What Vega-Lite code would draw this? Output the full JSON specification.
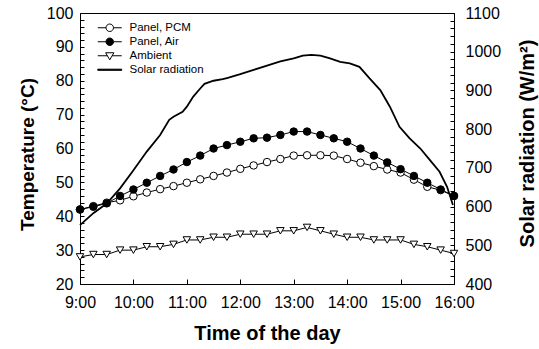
{
  "$schema": "https://vega.github.io/schema/vega-lite/v6.json",
  "width": 374,
  "height": 271,
  "autosize": {"type": "none"},
  "padding": {"left": 80, "top": 13, "right": 85, "bottom": 65},
  "config": {
    "font": "Liberation Sans",
    "view": {"stroke": "black", "strokeWidth": 1},
    "axis": {
      "domainColor": "black",
      "labelColor": "black",
      "titleColor": "black",
      "labelFont": "Liberation Sans",
      "titleFont": "Liberation Sans",
      "labelFontSize": 16,
      "titleFontWeight": "bold",
      "grid": false,
      "labelOverlap": false,
      "labelFlush": false,
      "labelBound": false
    },
    "legend": {
      "labelFont": "Liberation Sans",
      "labelFontSize": 11.5,
      "labelColor": "black"
    }
  },
  "datasets": {
    "temp": [
      {"time": 9, "series": "Panel, PCM", "temp": 42},
      {"time": 9.25, "series": "Panel, PCM", "temp": 43},
      {"time": 9.5, "series": "Panel, PCM", "temp": 44},
      {"time": 9.75, "series": "Panel, PCM", "temp": 44.7},
      {"time": 10, "series": "Panel, PCM", "temp": 45.9},
      {"time": 10.25, "series": "Panel, PCM", "temp": 47},
      {"time": 10.5, "series": "Panel, PCM", "temp": 48},
      {"time": 10.75, "series": "Panel, PCM", "temp": 48.9},
      {"time": 11, "series": "Panel, PCM", "temp": 49.9},
      {"time": 11.25, "series": "Panel, PCM", "temp": 50.9},
      {"time": 11.5, "series": "Panel, PCM", "temp": 51.9},
      {"time": 11.75, "series": "Panel, PCM", "temp": 52.9},
      {"time": 12, "series": "Panel, PCM", "temp": 54},
      {"time": 12.25, "series": "Panel, PCM", "temp": 55},
      {"time": 12.5, "series": "Panel, PCM", "temp": 56},
      {"time": 12.75, "series": "Panel, PCM", "temp": 56.9},
      {"time": 13, "series": "Panel, PCM", "temp": 57.9},
      {"time": 13.25, "series": "Panel, PCM", "temp": 58},
      {"time": 13.5, "series": "Panel, PCM", "temp": 58},
      {"time": 13.75, "series": "Panel, PCM", "temp": 57.9},
      {"time": 14, "series": "Panel, PCM", "temp": 56.9},
      {"time": 14.25, "series": "Panel, PCM", "temp": 55.8},
      {"time": 14.5, "series": "Panel, PCM", "temp": 54.8},
      {"time": 14.75, "series": "Panel, PCM", "temp": 53.8},
      {"time": 15, "series": "Panel, PCM", "temp": 52.9},
      {"time": 15.25, "series": "Panel, PCM", "temp": 50.8},
      {"time": 15.5, "series": "Panel, PCM", "temp": 48.7},
      {"time": 15.75, "series": "Panel, PCM", "temp": 47.7},
      {"time": 16, "series": "Panel, PCM", "temp": 46},
      {"time": 9, "series": "Panel, Air", "temp": 42},
      {"time": 9.25, "series": "Panel, Air", "temp": 42.8},
      {"time": 9.5, "series": "Panel, Air", "temp": 43.8},
      {"time": 9.75, "series": "Panel, Air", "temp": 46},
      {"time": 10, "series": "Panel, Air", "temp": 47.9},
      {"time": 10.25, "series": "Panel, Air", "temp": 49.9},
      {"time": 10.5, "series": "Panel, Air", "temp": 51.9},
      {"time": 10.75, "series": "Panel, Air", "temp": 53.8},
      {"time": 11, "series": "Panel, Air", "temp": 56},
      {"time": 11.25, "series": "Panel, Air", "temp": 57.9},
      {"time": 11.5, "series": "Panel, Air", "temp": 60},
      {"time": 11.75, "series": "Panel, Air", "temp": 61},
      {"time": 12, "series": "Panel, Air", "temp": 62},
      {"time": 12.25, "series": "Panel, Air", "temp": 63},
      {"time": 12.5, "series": "Panel, Air", "temp": 63.2},
      {"time": 12.75, "series": "Panel, Air", "temp": 64},
      {"time": 13, "series": "Panel, Air", "temp": 65},
      {"time": 13.25, "series": "Panel, Air", "temp": 65},
      {"time": 13.5, "series": "Panel, Air", "temp": 64},
      {"time": 13.75, "series": "Panel, Air", "temp": 63},
      {"time": 14, "series": "Panel, Air", "temp": 62},
      {"time": 14.25, "series": "Panel, Air", "temp": 60},
      {"time": 14.5, "series": "Panel, Air", "temp": 57.9},
      {"time": 14.75, "series": "Panel, Air", "temp": 55.9},
      {"time": 15, "series": "Panel, Air", "temp": 53.9},
      {"time": 15.25, "series": "Panel, Air", "temp": 51.9},
      {"time": 15.5, "series": "Panel, Air", "temp": 49.9},
      {"time": 15.75, "series": "Panel, Air", "temp": 47.9},
      {"time": 16, "series": "Panel, Air", "temp": 46},
      {"time": 9, "series": "Ambient", "temp": 28},
      {"time": 9.25, "series": "Ambient", "temp": 28.7},
      {"time": 9.5, "series": "Ambient", "temp": 28.7},
      {"time": 9.75, "series": "Ambient", "temp": 30},
      {"time": 10, "series": "Ambient", "temp": 30},
      {"time": 10.25, "series": "Ambient", "temp": 31},
      {"time": 10.5, "series": "Ambient", "temp": 31},
      {"time": 10.75, "series": "Ambient", "temp": 31.7},
      {"time": 11, "series": "Ambient", "temp": 33},
      {"time": 11.25, "series": "Ambient", "temp": 33},
      {"time": 11.5, "series": "Ambient", "temp": 33.8},
      {"time": 11.75, "series": "Ambient", "temp": 33.8},
      {"time": 12, "series": "Ambient", "temp": 34.7},
      {"time": 12.25, "series": "Ambient", "temp": 34.7},
      {"time": 12.5, "series": "Ambient", "temp": 34.7},
      {"time": 12.75, "series": "Ambient", "temp": 35.7},
      {"time": 13, "series": "Ambient", "temp": 35.7},
      {"time": 13.25, "series": "Ambient", "temp": 36.7},
      {"time": 13.5, "series": "Ambient", "temp": 35.7},
      {"time": 13.75, "series": "Ambient", "temp": 34.7},
      {"time": 14, "series": "Ambient", "temp": 33.8},
      {"time": 14.25, "series": "Ambient", "temp": 33.8},
      {"time": 14.5, "series": "Ambient", "temp": 33},
      {"time": 14.75, "series": "Ambient", "temp": 33},
      {"time": 15, "series": "Ambient", "temp": 33},
      {"time": 15.25, "series": "Ambient", "temp": 31.7},
      {"time": 15.5, "series": "Ambient", "temp": 31},
      {"time": 15.75, "series": "Ambient", "temp": 30},
      {"time": 16, "series": "Ambient", "temp": 29}
    ],
    "solar": [
      {"time": 9, "radiation": 552},
      {"time": 9.25, "radiation": 583},
      {"time": 9.5, "radiation": 608},
      {"time": 9.75, "radiation": 647},
      {"time": 10, "radiation": 694},
      {"time": 10.25, "radiation": 742},
      {"time": 10.5, "radiation": 785},
      {"time": 10.67, "radiation": 824},
      {"time": 10.75, "radiation": 832},
      {"time": 10.92, "radiation": 845},
      {"time": 11, "radiation": 858},
      {"time": 11.12, "radiation": 884},
      {"time": 11.25, "radiation": 905},
      {"time": 11.33, "radiation": 917},
      {"time": 11.5, "radiation": 925},
      {"time": 11.67, "radiation": 929},
      {"time": 11.75, "radiation": 932},
      {"time": 12, "radiation": 942},
      {"time": 12.25, "radiation": 953},
      {"time": 12.5, "radiation": 964},
      {"time": 12.75, "radiation": 975},
      {"time": 13, "radiation": 983},
      {"time": 13.17, "radiation": 990},
      {"time": 13.33, "radiation": 992},
      {"time": 13.5, "radiation": 990},
      {"time": 13.68, "radiation": 983},
      {"time": 13.87, "radiation": 974},
      {"time": 14.05, "radiation": 970},
      {"time": 14.23, "radiation": 961},
      {"time": 14.42, "radiation": 931},
      {"time": 14.62, "radiation": 901},
      {"time": 14.8, "radiation": 858},
      {"time": 14.98, "radiation": 806},
      {"time": 15.17, "radiation": 776},
      {"time": 15.37, "radiation": 750},
      {"time": 15.55, "radiation": 720},
      {"time": 15.73, "radiation": 690},
      {"time": 15.87, "radiation": 651},
      {"time": 15.98, "radiation": 604}
    ]
  },
  "layer": [
    {
      "data": {"name": "temp"},
      "encoding": {
        "x": {
          "field": "time", "type": "quantitative",
          "scale": {"domain": [9, 16], "nice": false, "zero": false},
          "axis": {
            "title": "Time of the day",
            "titleFontSize": 20,
            "titleX": 187, "titleY": 49,
            "titleAlign": "center", "titleBaseline": "middle",
            "values": [9, 9.5, 10, 10.5, 11, 11.5, 12, 12.5, 13, 13.5, 14, 14.5, 15, 15.5, 16],
            "labelExpr": "datum.value % 1 === 0 ? floor(datum.value) + ':00' : ''",
            "ticks": true,
            "tickColor": "black",
            "tickWidth": 1,
            "tickOpacity": 1,
            "tickSize": -5,
            "labelPadding": 15
          }
        },
        "y": {
          "field": "temp", "type": "quantitative",
          "scale": {"domain": [20, 100], "nice": false, "zero": false},
          "axis": {
            "title": "Temperature (°C)",
            "titleFontSize": 19,
            "titleAngle": -90,
            "titleX": -53, "titleY": 141,
            "titleAlign": "center", "titleBaseline": "middle",
            "values": [20, 22, 24, 26, 28, 30, 32, 34, 36, 38, 40, 42, 44, 46, 48, 50, 52, 54, 56, 58, 60, 62, 64, 66, 68, 70, 72, 74, 76, 78, 80, 82, 84, 86, 88, 90, 92, 94, 96, 98, 100],
            "labelExpr": "datum.value % 10 === 0 ? datum.label : ''",
            "ticks": true,
            "tickColor": "black",
            "tickWidth": 1,
            "tickOpacity": 1,
            "tickSize": -4,
            "labelPadding": 11
          }
        }
      },
      "layer": [
        {
          "mark": {"type": "line", "color": "black", "strokeWidth": 1},
          "encoding": {"detail": {"field": "series"}}
        },
        {
          "mark": {"type": "point", "filled": true, "stroke": "black", "strokeWidth": 1, "opacity": 1, "size": 56},
          "encoding": {
            "shape": {
              "field": "series", "type": "nominal",
              "scale": {"domain": ["Panel, PCM", "Panel, Air", "Ambient"], "range": ["circle", "circle", "triangle-down"]},
              "legend": null
            },
            "fill": {
              "field": "series", "type": "nominal",
              "scale": {"domain": ["Panel, PCM", "Panel, Air", "Ambient"], "range": ["white", "black", "white"]},
              "legend": null
            }
          }
        },
        {
          "mark": {"type": "point", "filled": true, "stroke": "black", "strokeWidth": 1, "opacity": 0, "size": 56},
          "encoding": {
            "shape": {
              "field": "series", "type": "nominal",
              "scale": {
                "domain": ["Panel, PCM", "Panel, Air", "Ambient", "Solar radiation"],
                "range": [
                  "M-3.2,0H-1M1,0H3.2M1,0A1,1,0,1,1,-1,0A1,1,0,1,1,1,0Z",
                  "M-3.2,0H-1M1,0H3.2M1,0A1,1,0,1,1,-1,0A1,1,0,1,1,1,0Z",
                  "M-3.2,0H-0.64M0.64,0H3.2M-1.1,-0.8L1.1,-0.8L0,1.1Z",
                  "M-3.2,-0.15H3.2V0.15H-3.2Z"
                ]
              },
              "legend": {
                "title": null,
                "orient": "none",
                "legendX": 16,
                "legendY": 9,
                "padding": 0,
                "symbolSize": 56,
                "symbolOpacity": 1,
                "symbolStrokeWidth": 1,
                "symbolOffset": 8,
                "labelOffset": 14,
                "rowPadding": 1
              }
            },
            "fill": {
              "field": "series", "type": "nominal",
              "scale": {"domain": ["Panel, PCM", "Panel, Air", "Ambient", "Solar radiation"], "range": ["white", "black", "white", "black"]},
              "legend": {
                "title": null,
                "orient": "none",
                "legendX": 16,
                "legendY": 9,
                "padding": 0,
                "symbolSize": 56,
                "symbolOpacity": 1,
                "symbolStrokeWidth": 1,
                "symbolOffset": 8,
                "labelOffset": 14,
                "rowPadding": 1
              }
            }
          }
        }
      ],
      "resolve": {"scale": {"shape": "independent", "fill": "independent"}}
    },
    {
      "data": {"name": "solar"},
      "mark": {"type": "line", "color": "black", "strokeWidth": 1.8},
      "encoding": {
        "x": {
          "field": "time", "type": "quantitative",
          "scale": {"domain": [9, 16], "nice": false, "zero": false}
        },
        "y": {
          "field": "radiation", "type": "quantitative",
          "scale": {"domain": [400, 1100], "nice": false, "zero": false},
          "axis": {
            "orient": "right",
            "title": "Solar radiation (W/m²)",
            "titleFontSize": 20,
            "titleAngle": -90,
            "titleX": 73, "titleY": 130,
            "titleAlign": "center", "titleBaseline": "middle",
            "values": [400, 420, 440, 460, 480, 500, 520, 540, 560, 580, 600, 620, 640, 660, 680, 700, 720, 740, 760, 780, 800, 820, 840, 860, 880, 900, 920, 940, 960, 980, 1000, 1020, 1040, 1060, 1080, 1100],
            "labelExpr": "datum.value % 100 === 0 ? '' + datum.value : ''",
            "ticks": true,
            "tickColor": "black",
            "tickWidth": 1,
            "tickOpacity": 1,
            "tickSize": -4,
            "labelPadding": 15
          }
        }
      }
    }
  ],
  "resolve": {"scale": {"y": "independent"}}
}
